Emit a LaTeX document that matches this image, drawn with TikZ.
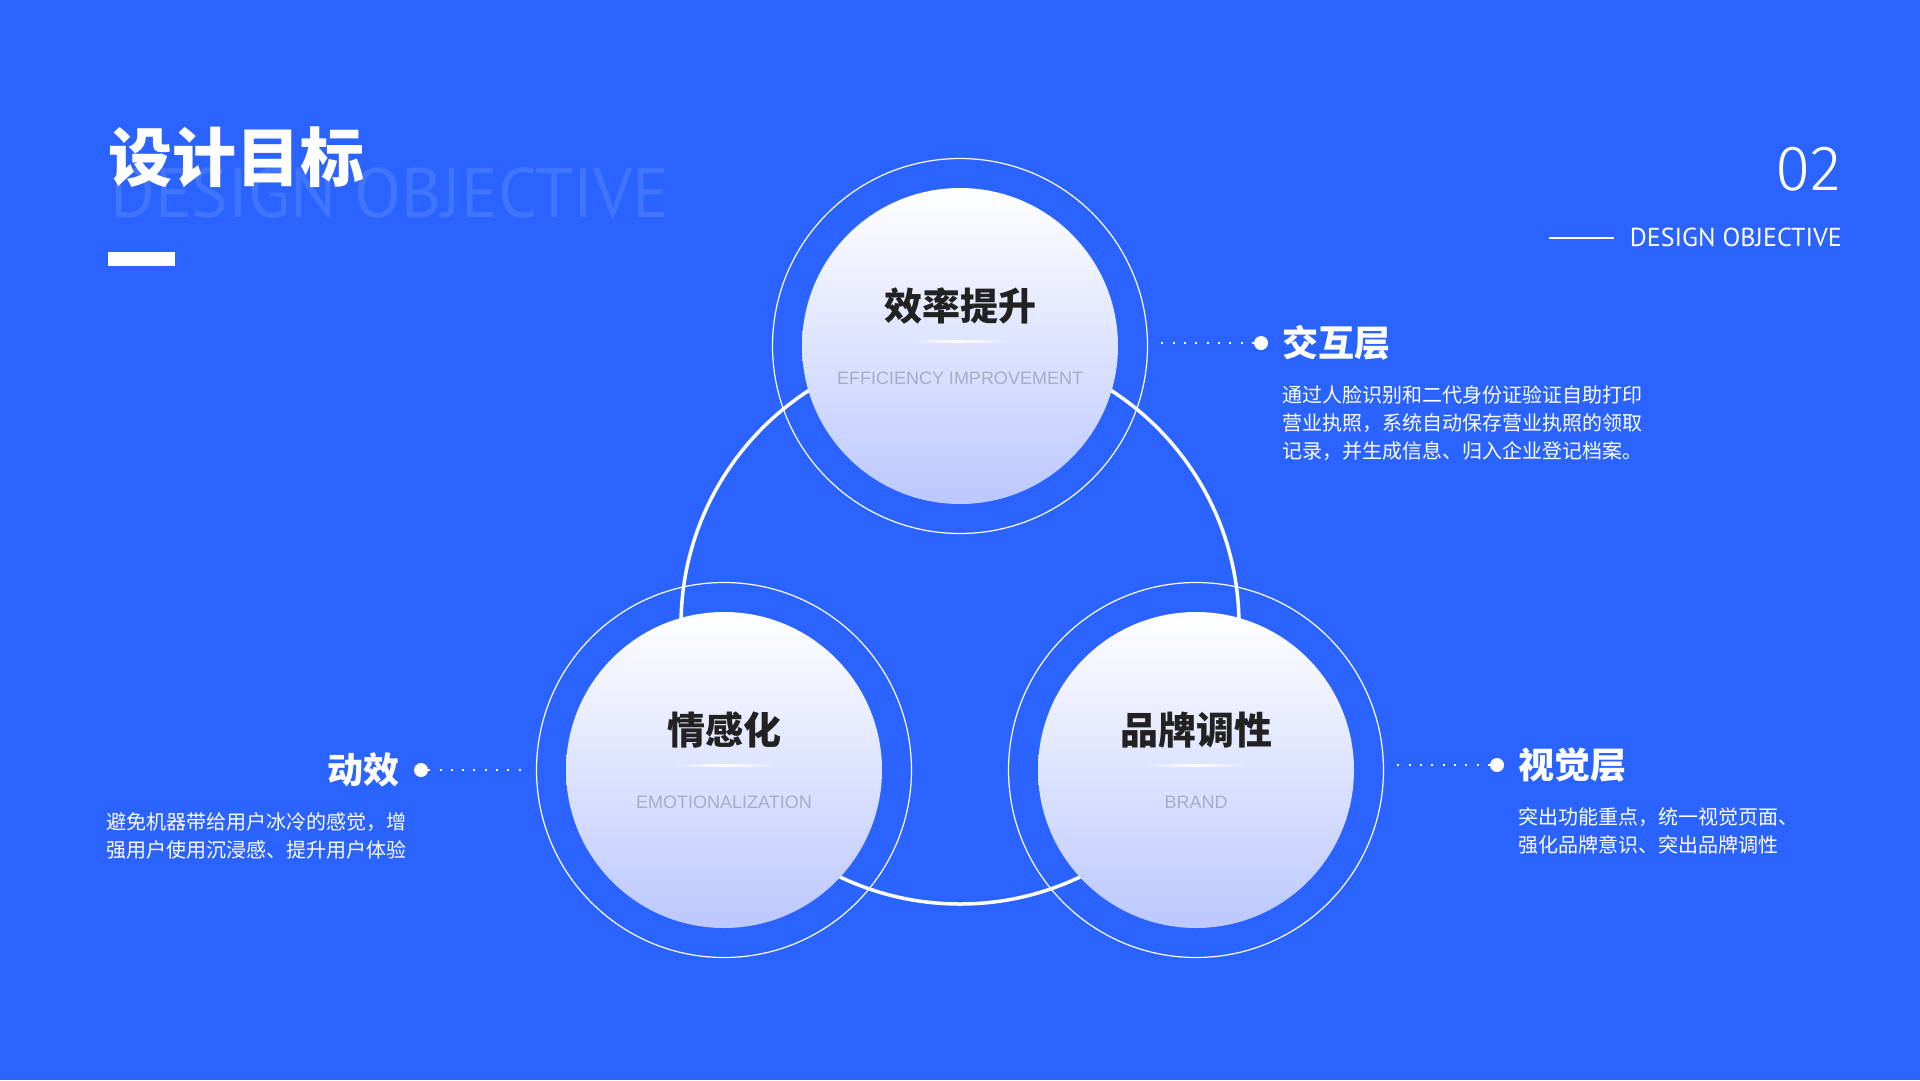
\documentclass[tikz,border=0pt]{standalone}
\usepackage{fontspec}
\setmainfont{Liberation Sans}
\newfontfamily\cjk{Noto Sans CJK SC}
\newfontfamily\din[FakeStretch=0.98]{PT Sans}
\newfontfamily\tagfont{PT Sans}
\IfFontExistsTF{Fira Sans Light}{\newfontfamily\numfont{Fira Sans Light}}{\newfontfamily\numfont{PT Sans}}
\usetikzlibrary{positioning}
\definecolor{bgblue}{RGB}{42,99,255}
\definecolor{markblue}{RGB}{64,118,255}
\definecolor{discbot}{RGB}{188,200,255}
\definecolor{discmid}{RGB}{225,230,253}
\definecolor{subgrey}{RGB}{168,174,194}
\definecolor{titledark}{RGB}{34,34,34}

\begin{document}
\begin{tikzpicture}[x=1pt, y=-1pt,
    disc/.style={circle, inner sep=0, minimum size=316pt, top color=white, bottom color=discbot},
    ring/.style={draw=white, circle, inner sep=0, minimum size=375pt, line width=1.2pt},
    ctitle/.style={text=titledark, font=\cjk\bfseries\fontsize{38}{38}\selectfont, inner sep=0},
    csub/.style={text=subgrey, font=\fontsize{18}{18}\selectfont, inner sep=0},
    cline/.style={left color=discmid, right color=discmid, middle color=white},
    leaddot/.style={circle, fill=white, inner sep=0, minimum size=14pt},
    leader/.style={white, line width=2pt, dash pattern=on 2pt off 9.3pt},
    headtxt/.style={text=white, font=\cjk\bfseries\fontsize{36}{36}\selectfont, inner sep=0},
    bodytxt/.style={text=white, font=\cjk\fontsize{20}{28}\selectfont, inner sep=0, align=left}]

    \fill[bgblue] (0,0) rectangle (1920,1080);
    \useasboundingbox (0,0) rectangle (1920,1080);

    \node[anchor=base west, inner sep=0, text=markblue, font=\din\fontsize{70}{70}\selectfont] (mark) at (110,217) {DESIGN OBJECTIVE};
    \node[anchor=west, inner sep=0, text=white, font=\cjk\bfseries\fontsize{64}{64}\selectfont] (title) at (108,157) {设计目标};
    \fill[white] (108,252) rectangle (175,266);

    \node[anchor=base east, inner sep=0, text=white, font=\numfont\fontsize{64}{64}\selectfont] (pageno) at (1841,190) {02};
    \node[anchor=base east, inner sep=0, text=white, font=\tagfont\fontsize{26}{26}\selectfont] (tag) at (1842,246) {DESIGN OBJECTIVE};
    \draw[white, line width=2.5pt] (1549,238) -- (1614,238);

    \node[draw=white, circle, inner sep=0, minimum size=558pt, line width=3.5pt] (loop) at (960,625) {};

    \node[ring] (effR) at (960,346) {};
    \node[ring] (emoR) at (724,770) {};
    \node[ring] (braR) at (1196,770) {};
    \node[disc] (eff) at (960,346) {};
    \node[disc] (emo) at (724,770) {};
    \node[disc] (bra) at (1196,770) {};

    \node[ctitle] (effT) at ([yshift=40pt]eff.center) {效率提升};
    \shade[cline] ([xshift=-48pt,yshift=5.5pt]eff.center) rectangle ([xshift=48pt,yshift=3.5pt]eff.center);
    \node[csub] (effS) at ([yshift=-32pt]eff.center) {EFFICIENCY IMPROVEMENT};

    \node[ctitle] (emoT) at ([yshift=40pt]emo.center) {情感化};
    \shade[cline] ([xshift=-48pt,yshift=5.5pt]emo.center) rectangle ([xshift=48pt,yshift=3.5pt]emo.center);
    \node[csub] (emoS) at ([yshift=-32pt]emo.center) {EMOTIONALIZATION};

    \node[ctitle] (braT) at ([yshift=40pt]bra.center) {品牌调性};
    \shade[cline] ([xshift=-48pt,yshift=5.5pt]bra.center) rectangle ([xshift=48pt,yshift=3.5pt]bra.center);
    \node[csub] (braS) at ([yshift=-32pt]bra.center) {BRAND};

    \node[leaddot] (dotI) at (1261,343) {};
    \coordinate (endI) at (1160,343);
    \draw[leader] (dotI) -- (endI);
    \node[headtxt, right=14pt of dotI] (headI) {交互层};
    \node[bodytxt, below=25pt of headI.south west, anchor=north west] (bodyI)
        {通过人脸识别和二代身份证验证自助打印\\营业执照，系统自动保存营业执照的领取\\记录，并生成信息、归入企业登记档案。};

    \node[leaddot] (dotD) at (421,770) {};
    \coordinate (endD) at (522,770);
    \draw[leader] (dotD) -- (endD);
    \node[headtxt, left=14pt of dotD] (headD) {动效};
    \node[bodytxt, below=25pt of headD.south east, anchor=north east, xshift=7pt] (bodyD)
        {避免机器带给用户冰冷的感觉，增\\强用户使用沉浸感、提升用户体验};

    \node[leaddot] (dotV) at (1497,765) {};
    \coordinate (endV) at (1396,765);
    \draw[leader] (dotV) -- (endV);
    \node[headtxt, right=14pt of dotV] (headV) {视觉层};
    \node[bodytxt, below=25pt of headV.south west, anchor=north west] (bodyV)
        {突出功能重点，统一视觉页面、\\强化品牌意识、突出品牌调性};
\end{tikzpicture}
\end{document}
